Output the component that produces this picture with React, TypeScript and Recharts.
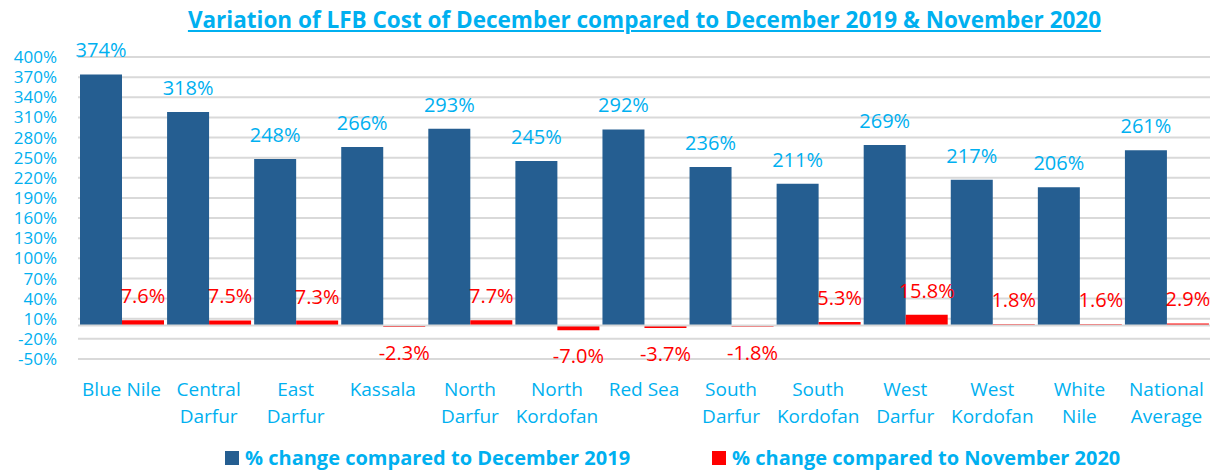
import { BarChart, Bar, XAxis, YAxis, CartesianGrid, ReferenceLine, LabelList } from "recharts";

const categories = [
  "Blue Nile",
  "Central\nDarfur",
  "East\nDarfur",
  "Kassala",
  "North\nDarfur",
  "North\nKordofan",
  "Red Sea",
  "South\nDarfur",
  "South\nKordofan",
  "West\nDarfur",
  "West\nKordofan",
  "White\nNile",
  "National\nAverage",
];
const vsDec2019 = [374, 318, 248, 266, 293, 245, 292, 236, 211, 269, 217, 206, 261];
const vsNov2020 = [7.6, 7.5, 7.3, -2.3, 7.7, -7.0, -3.7, -1.8, 5.3, 15.8, 1.8, 1.6, 2.9];
const yTicks = [-50, -20, 10, 40, 70, 100, 130, 160, 190, 220, 250, 280, 310, 340, 370, 400];

const FONT = "'Open Sans', sans-serif";
const CYAN = "#00B0F0";
const BLUE = "#255E91";
const RED = "#FF0000";

const data = categories.map((name, i) => ({
  name,
  dec2019: vsDec2019[i],
  nov2020: vsNov2020[i],
}));

// data label drawn above positive bars, below negative ones
function makeLabel(color: string, fmt: (v: number) => string) {
  return (props: any) => {
    const { x, y, width, height, value } = props;
    const top = Math.min(y, y + height);
    const bottom = Math.max(y, y + height);
    const ty = value >= 0 ? top - 17 : bottom + 33;
    return (
      <text x={x + width / 2} y={ty} textAnchor="middle" fill={color} fontSize={20} fontFamily={FONT}>
        {fmt(value)}
      </text>
    );
  };
}

function CategoryTick(props: any) {
  const { x, y, payload } = props;
  const lines = String(payload.value).split("\n");
  return (
    <text x={x} y={y} textAnchor="middle" fill={CYAN} fontSize={19} fontFamily={FONT}>
      {lines.map((l, i) => (
        <tspan key={i} x={x} dy={i === 0 ? 37 : 27}>
          {l}
        </tspan>
      ))}
    </text>
  );
}

export default function App() {
  return (
    <div style={{ position: "absolute", left: 0, top: 0, width: 1217, height: 472, background: "#fff", fontFamily: FONT }}>
      <div
        style={{
          position: "absolute",
          top: 5,
          left: 36,
          width: 1217,
          textAlign: "center",
          color: CYAN,
          fontWeight: 700,
          fontSize: 22.5,
          lineHeight: "30px",
          textDecoration: "underline",
        }}
      >
        Variation of LFB Cost of December compared to December 2019 &amp; November 2020
      </div>
      <BarChart
        width={1217}
        height={472}
        data={data}
        margin={{ top: 57, right: 7, bottom: 0, left: 0 }}
        barCategoryGap={2}
        barGap={0}
      >
        <CartesianGrid vertical={false} stroke="#D9D9D9" strokeWidth={2} />
        <XAxis
          dataKey="name"
          height={113}
          axisLine={false}
          tickLine={false}
          tickSize={0}
          tickMargin={0}
          interval={0}
          tick={<CategoryTick />}
        />
        <YAxis
          width={78}
          domain={[-50, 400]}
          ticks={yTicks}
          interval={0}
          axisLine={false}
          tickLine={false}
          tickSize={0}
          tickMargin={21}
          tickFormatter={(v: number) => `${v}%`}
          tick={{ fill: CYAN, fontSize: 17, fontFamily: FONT }}
        />
        <ReferenceLine y={0} stroke="#D9D9D9" strokeWidth={2} />
        <Bar dataKey="dec2019" fill={BLUE} isAnimationActive={false}>
          <LabelList dataKey="dec2019" content={makeLabel(CYAN, (v) => `${v}%`)} />
        </Bar>
        <Bar dataKey="nov2020" fill={RED} isAnimationActive={false}>
          <LabelList dataKey="nov2020" content={makeLabel(RED, (v) => `${v.toFixed(1)}%`)} />
        </Bar>
      </BarChart>
      <div
        style={{
          position: "absolute",
          top: 444,
          left: 225,
          display: "flex",
          gap: 82,
          color: CYAN,
          fontWeight: 700,
          fontSize: 20,
        }}
      >
        <span style={{ display: "flex", alignItems: "center" }}>
          <span style={{ display: "inline-block", width: 14, height: 14, background: BLUE, marginRight: 6 }} />
          % change compared to December 2019
        </span>
        <span style={{ display: "flex", alignItems: "center" }}>
          <span style={{ display: "inline-block", width: 14, height: 14, background: RED, marginRight: 6 }} />
          % change compared to November 2020
        </span>
      </div>
    </div>
  );
}
